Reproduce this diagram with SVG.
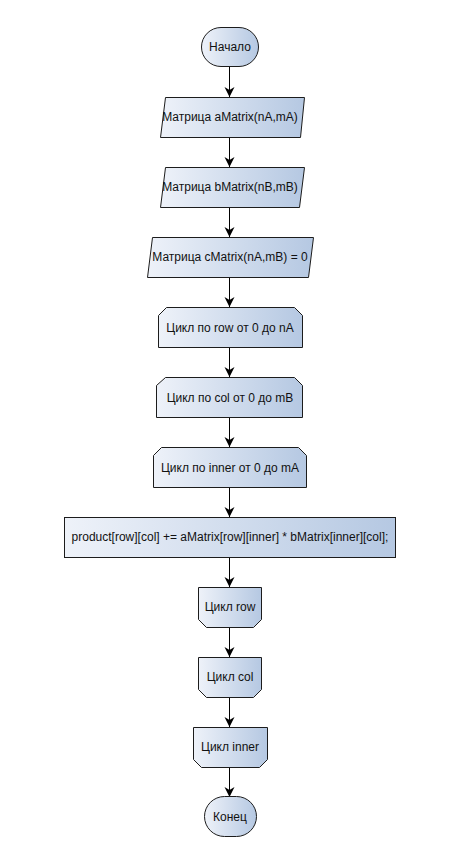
<svg xmlns="http://www.w3.org/2000/svg" width="458" height="848" viewBox="0 0 458 848">
  <defs>
    <linearGradient id="fill" x1="0" y1="0" x2="1" y2="0">
      <stop offset="0" stop-color="#eef2f9"/>
      <stop offset="1" stop-color="#b5c8e2"/>
    </linearGradient>
    <marker id="arrow" viewBox="0 0 10 12" refX="10" refY="6" markerWidth="10" markerHeight="12" markerUnits="userSpaceOnUse" orient="auto">
      <path d="M0,1 L10,6 L0,11 L3,6 Z" fill="#000"/>
    </marker>
  </defs>
  <style>
    .shape { fill: url(#fill); stroke: #1c1c1c; stroke-width: 1; }
    .label { font-family: "Liberation Sans", Arial, sans-serif; font-size: 12px; fill: #111; text-anchor: middle; dominant-baseline: central; }
    .conn { stroke: #000; stroke-width: 1; fill: none; marker-end: url(#arrow); }
  </style>
  <rect width="458" height="848" fill="#fff"/>

  <g id="connectors">
    <line class="conn" x1="229.5" y1="66" x2="229.5" y2="97"/>
    <line class="conn" x1="229.5" y1="137" x2="229.5" y2="167"/>
    <line class="conn" x1="229.5" y1="207" x2="229.5" y2="237"/>
    <line class="conn" x1="229.5" y1="277" x2="229.5" y2="307"/>
    <line class="conn" x1="229.5" y1="347" x2="229.5" y2="377"/>
    <line class="conn" x1="229.5" y1="417" x2="229.5" y2="447"/>
    <line class="conn" x1="229.5" y1="487" x2="229.5" y2="517"/>
    <line class="conn" x1="229.5" y1="557" x2="229.5" y2="587"/>
    <line class="conn" x1="229.5" y1="627" x2="229.5" y2="657"/>
    <line class="conn" x1="229.5" y1="697" x2="229.5" y2="727"/>
    <line class="conn" x1="229.5" y1="767" x2="229.5" y2="797"/>
  </g>

  <g id="start">
    <rect class="shape" x="201.5" y="27.5" width="57" height="39" rx="19.5" ry="19.5"/>
    <text class="label" x="230" y="47">Начало</text>
  </g>

  <g id="input-a">
    <polygon class="shape" points="165.5,97.5 304.5,97.5 300.5,137.5 160.5,137.5"/>
    <text class="label" x="230" y="117">Матрица aMatrix(nA,mA)</text>
  </g>

  <g id="input-b">
    <polygon class="shape" points="165.5,167.5 304.5,167.5 299.5,207.5 160.5,207.5"/>
    <text class="label" x="230" y="187">Матрица bMatrix(nB,mB)</text>
  </g>

  <g id="input-c">
    <polygon class="shape" points="152.5,237.5 313.5,237.5 308.5,277.5 147.5,277.5"/>
    <text class="label" x="230" y="257">Матрица cMatrix(nA,mB) = 0</text>
  </g>

  <g id="loop-row">
    <polygon class="shape" points="166.5,307.5 294.5,307.5 302.5,315.5 302.5,347.5 158.5,347.5 158.5,315.5"/>
    <text class="label" x="230" y="328">Цикл по row от 0 до nA</text>
  </g>

  <g id="loop-col">
    <polygon class="shape" points="165.5,377.5 294.5,377.5 302.5,385.5 302.5,417.5 156.5,417.5 156.5,385.5"/>
    <text class="label" x="230" y="398">Цикл по col от 0 до mB</text>
  </g>

  <g id="loop-inner">
    <polygon class="shape" points="161.5,447.5 298.5,447.5 306.5,455.5 306.5,487.5 153.5,487.5 153.5,455.5"/>
    <text class="label" x="230" y="468">Цикл по inner от 0 до mA</text>
  </g>

  <g id="product">
    <rect class="shape" x="64.5" y="517.5" width="331" height="40"/>
    <text class="label" x="230" y="537">product[row][col] += aMatrix[row][inner] * bMatrix[inner][col];</text>
  </g>

  <g id="end-row">
    <polygon class="shape" points="198.5,587.5 261.5,587.5 261.5,619.5 253.5,627.5 206.5,627.5 198.5,619.5"/>
    <text class="label" x="230" y="607">Цикл row</text>
  </g>

  <g id="end-col">
    <polygon class="shape" points="198.5,657.5 261.5,657.5 261.5,689.5 253.5,697.5 206.5,697.5 198.5,689.5"/>
    <text class="label" x="230" y="677">Цикл col</text>
  </g>

  <g id="end-inner">
    <polygon class="shape" points="193.5,727.5 267.5,727.5 267.5,759.5 259.5,767.5 201.5,767.5 193.5,759.5"/>
    <text class="label" x="230" y="747">Цикл inner</text>
  </g>

  <g id="finish">
    <rect class="shape" x="204.5" y="796.5" width="52" height="40" rx="20" ry="20"/>
    <text class="label" x="230" y="817">Конец</text>
  </g>
</svg>
